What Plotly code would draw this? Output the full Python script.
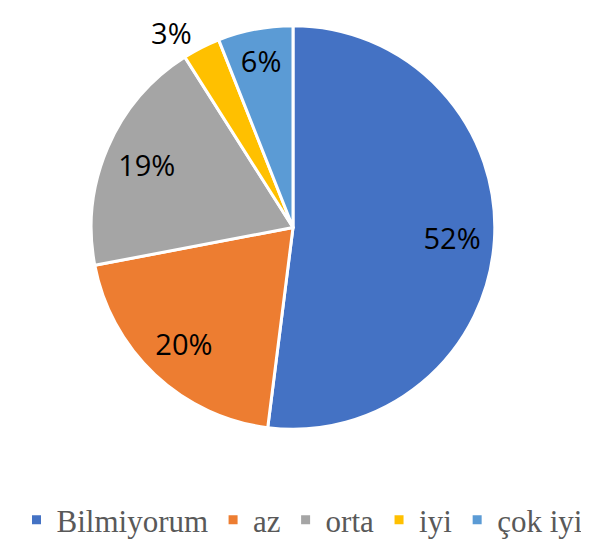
import plotly.graph_objects as go

labels = ["Bilmiyorum", "az", "orta", "iyi", "çok iyi"]
values = [52, 20, 19, 3, 6]
colors = ["#4472C4", "#ED7D31", "#A5A5A5", "#FFC000", "#5B9BD5"]
positions = ["inside", "inside", "inside", "outside", "inside"]

W, H = 589, 539
cx, cy, r = 285, 221, 206
dom = dict(x=[(cx - r) / W, (cx + r) / W], y=[1 - (cy + r) / H, 1 - (cy - r) / H])
tfont = "Open Sans, Liberation Sans, sans-serif"

fig = go.Figure()
# coloured slices
fig.add_trace(go.Pie(
    labels=labels, values=values, sort=False, direction="clockwise", rotation=0,
    marker=dict(colors=colors, line=dict(color="white", width=3)),
    textinfo="none",
    domain=dom,
))
# transparent ring carrying the percentage labels (placed further out, like Excel)
fig.add_trace(go.Pie(
    labels=labels, values=values, sort=False, direction="clockwise", rotation=0,
    hole=0.58, showlegend=False, hoverinfo="skip",
    marker=dict(colors=["rgba(0,0,0,0)"] * len(values), line=dict(width=0)),
    texttemplate="%{percent:.0%}", textposition=positions,
    insidetextorientation="horizontal",
    textfont=dict(family=tfont, size=29, color="black"),
    domain=dom,
))
fig.update_layout(
    width=W, height=H, margin=dict(l=0, r=0, t=0, b=0),
    paper_bgcolor="white", plot_bgcolor="white",
    showlegend=True,
    legend=dict(orientation="h", x=0.5, xanchor="center", y=1 - 520 / H, yanchor="middle",
                font=dict(family="Liberation Serif, Times New Roman, serif", size=31, color="#595959"),
                itemwidth=30, traceorder="normal"),
)
fig.write_html("out.html")
